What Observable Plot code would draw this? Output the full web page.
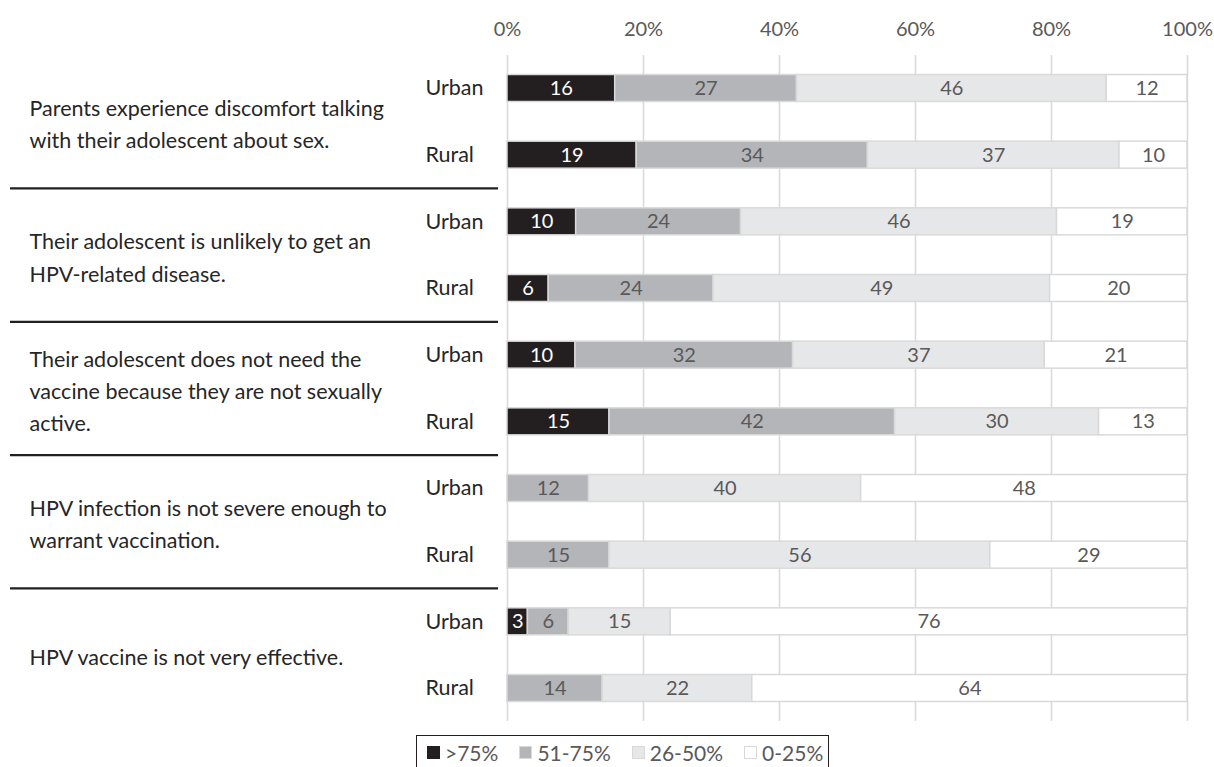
<!DOCTYPE html>
<html>
<head>
<meta charset="utf-8">
<script src="https://cdn.jsdelivr.net/npm/d3@7"></script>
<script src="https://cdn.jsdelivr.net/npm/@observablehq/plot@0.6"></script>
<style>
  html, body { margin: 0; padding: 0; background: #fff; }
  #chart { width: 1214px; }
  #chart svg { display: block; }
  .legend {
    margin-left: 416px; margin-top: 5px;
    border: 1.5px solid #231f20; border-bottom: none;
    padding: 2px 0 8px 10px; display: inline-flex; align-items: center;
    font-family: Lato, sans-serif; font-size: 21px; color: #595959; background: #fff;
    box-sizing: border-box; width: 413px; height: 40px;
  }
  .legend span.item { display: inline-flex; align-items: center; gap: 5px; margin-right: 21px; }
  .legend span.item:last-child { margin-right: 0; }
  .legend span.sw { width: 13px; height: 13px; display: inline-block; box-sizing: border-box; }
</style>
</head>
<body>
<div id="chart"></div>
<script>
const questions = [
  "Parents experience discomfort talking\nwith their adolescent about sex.",
  "Their adolescent is unlikely to get an\nHPV-related disease.",
  "Their adolescent does not need the\nvaccine because they are not sexually\nactive.",
  "HPV infection is not severe enough to\nwarrant vaccination.",
  "HPV vaccine is not very effective."
];
const groups = ["Urban", "Rural"];
const categories = [">75%", "51-75%", "26-50%", "0-25%"];
const colors = ["#231f20", "#b4b5b8", "#e6e7e8", "#ffffff"];
// values per row, in order Q1 Urban, Q1 Rural, Q2 Urban, ...
const over75 = [16, 19, 10, 6, 10, 15, 0, 0, 3, 0];
const p51to75 = [27, 34, 24, 24, 32, 42, 12, 15, 6, 14];
const p26to50 = [46, 37, 46, 49, 37, 30, 40, 56, 15, 22];
const p0to25 = [12, 10, 19, 20, 21, 13, 48, 29, 76, 64];
const xTicks = [0, 0.2, 0.4, 0.6, 0.8, 1];

const series = [over75, p51to75, p26to50, p0to25];
const rowKeys = [];
const rowInfo = [];
questions.forEach((q, qi) => groups.forEach(g => {
  const key = `Q${qi + 1}|${g}`;
  rowKeys.push(key);
  rowInfo.push({key, q, qi, g});
}));
const data = [];
rowInfo.forEach((r, i) => {
  categories.forEach((c, ci) => {
    const v = series[ci][i];
    if (v > 0) data.push({row: r.key, cat: c, value: v, color: colors[ci],
      textColor: ci === 0 ? "#ffffff" : "#595959"});
  });
});
const urbanRows = rowInfo.filter(r => r.g === "Urban");
const sepRows = rowInfo.filter(r => r.g === "Rural" && r.qi < questions.length - 1);

const font = "Lato, sans-serif";
const chart = Plot.plot({
  width: 1214,
  height: 730,
  marginLeft: 507,
  marginRight: 27,
  marginTop: 55,
  marginBottom: 9,
  style: {fontFamily: font, background: "#fff", overflow: "visible"},
  x: {domain: [0, 1], axis: null, label: null},
  y: {domain: rowKeys, paddingInner: 0.595, paddingOuter: 0.2925, round: false, axis: null},
  color: {type: "identity"},
  marks: [
    Plot.gridX(xTicks, {stroke: "#d9d9d9", strokeOpacity: 1, strokeWidth: 1.5}),
    Plot.axisX({anchor: "top", ticks: xTicks, tickFormat: d3.format(".0%"), tickSize: 0,
      tickPadding: 20, fontSize: 20, color: "#595959", fontFamily: font, label: null}),
    Plot.barX(data, Plot.stackX({
      x: "value", y: "row", z: "cat", order: categories, offset: "normalize",
      fill: "color", stroke: "#d9d9d9", strokeWidth: 1.5
    })),
    Plot.text(data, Plot.stackX({
      x: "value", y: "row", z: "cat", order: categories, offset: "normalize",
      text: d => String(d.value), fill: "textColor", fontSize: 20, fontFamily: font
    })),
    Plot.text(rowInfo, {
      y: "key", text: "g", frameAnchor: "left", textAnchor: "start", dx: -82,
      fontSize: 21.5, fill: "#262626", fontFamily: font
    }),
    Plot.text(urbanRows, {
      y: "key", text: "q", frameAnchor: "left", textAnchor: "start", dx: -478, dy: 33.3,
      lineAnchor: "middle", lineHeight: 1.5, fontSize: 21.5, fill: "#262626", fontFamily: font
    }),
    Plot.ruleY(sepRows, {
      y: "key", dy: 33.3, stroke: "#231f20", strokeWidth: 2.2,
      insetLeft: -497, insetRight: 689
    })
  ]
});
const host = document.getElementById("chart");
host.appendChild(chart);

const legend = document.createElement("div");
legend.className = "legend";
categories.forEach((c, i) => {
  const item = document.createElement("span");
  item.className = "item";
  const sw = document.createElement("span");
  sw.className = "sw";
  sw.style.background = colors[i];
  if (i > 0) sw.style.border = "1px solid #d9d9d9";
  item.appendChild(sw);
  item.appendChild(document.createTextNode(c));
  legend.appendChild(item);
});
host.appendChild(legend);
</script>
</body>
</html>
